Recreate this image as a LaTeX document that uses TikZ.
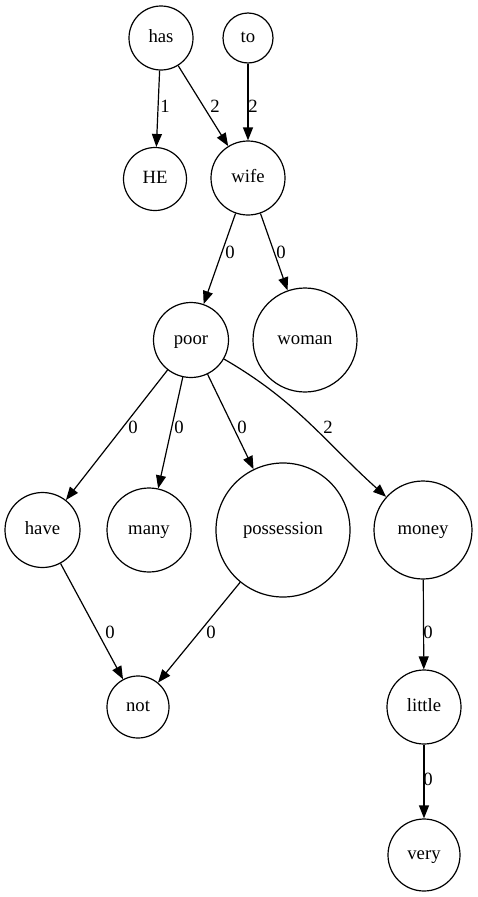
\documentclass[tikz,border=0pt]{standalone}
\usepackage{fontspec}
\setmainfont{Liberation Serif}
\usetikzlibrary{arrows.meta}

\tikzset{
  word/.style={draw, circle, line width=1.2pt, inner sep=0pt, text height=13pt, text depth=3.5pt, font=\fontsize{18.7}{20}\selectfont},
  lbl/.style={inner sep=0pt, font=\fontsize{18.7}{20}\selectfont},
  dep/.style={line width=1.2pt, -{Triangle[length=13pt,width=10pt]}}
}

\begin{document}
\begin{tikzpicture}[x=1pt,y=-1pt]
          \useasboundingbox (0,0) rectangle (478,897);
          \node[word, minimum size=64pt] (has) at (161,38) {has};
          \node[word, minimum size=50pt] (to) at (248,38) {to};
          \node[word, minimum size=63pt] (he) at (155,179) {HE};
          \node[word, minimum size=74pt] (wife) at (248,178) {wife};
          \node[word, minimum size=75pt] (poor) at (191,340) {poor};
          \node[word, minimum size=104pt] (woman) at (305,340) {woman};
          \node[word, minimum size=75pt] (have) at (42.5,530) {have};
          \node[word, minimum size=84pt] (many) at (149,530) {many};
          \node[word, minimum size=134pt] (possession) at (283,530) {possession};
          \node[word, minimum size=98pt] (money) at (423,530) {money};
          \node[word, minimum size=62pt] (not) at (138,707) {not};
          \node[word, minimum size=74pt] (little) at (424,707) {little};
          \node[word, minimum size=72pt] (very) at (424,855) {very};

          \draw[dep] (has) -- (he);
          \draw[dep] (has) -- (wife);
          \draw[dep] (to) -- (wife);
          \draw[dep] (wife) -- (poor);
          \draw[dep] (wife) -- (woman);
          \draw[dep] (poor) -- (have);
          \draw[dep] (poor) -- (many);
          \draw[dep] (poor) -- (possession);
          \draw[dep] (poor) to [out=-30,in=138] (money);
          \draw[dep] (have) -- (not);
          \draw[dep] (possession) -- (not);
          \draw[dep] (money) -- (little);
          \draw[dep] (little) -- (very);

          \node[lbl] (l1) at (165,106) {1};
          \node[lbl] (l2) at (215,106) {2};
          \node[lbl] (l3) at (253,106) {2};
          \node[lbl] (l4) at (230,252) {0};
          \node[lbl] (l5) at (281,252) {0};
          \node[lbl] (l6) at (133,427) {0};
          \node[lbl] (l7) at (179,427) {0};
          \node[lbl] (l8) at (242,427) {0};
          \node[lbl] (l9) at (328,427) {2};
          \node[lbl] (l10) at (110,632) {0};
          \node[lbl] (l11) at (211,632) {0};
          \node[lbl] (l12) at (428,632) {0};
          \node[lbl] (l13) at (428,779) {0};
\end{tikzpicture}
\end{document}
